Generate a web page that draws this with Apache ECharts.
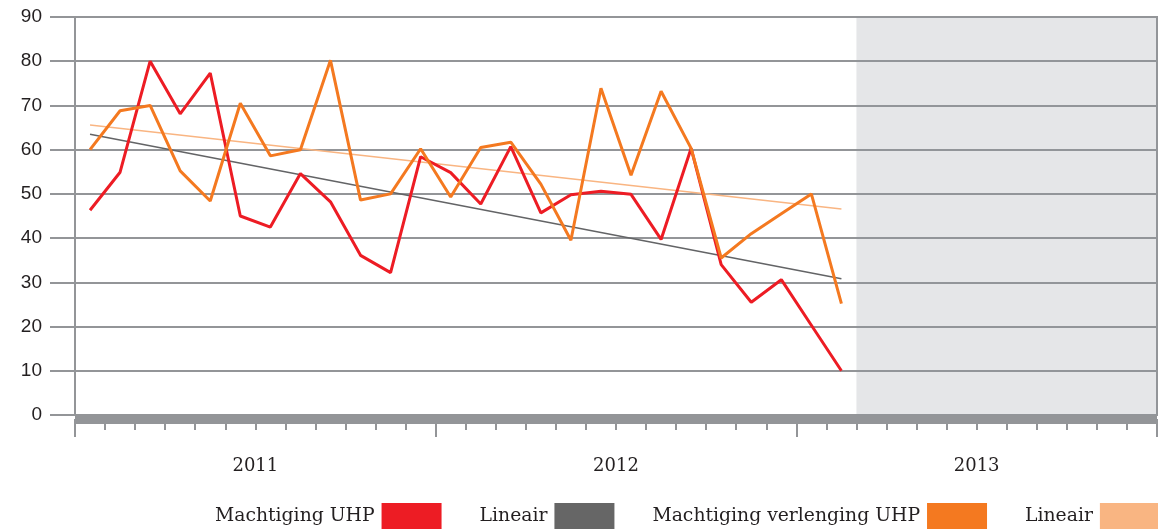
<!DOCTYPE html>
<html>
<head>
<meta charset="utf-8">
<script src="https://cdn.jsdelivr.net/npm/echarts@6/dist/echarts.min.js"></script>
<style>
  html, body { margin: 0; padding: 0; background: #fff; }
  #chart { width: 1158px; height: 529px; }
</style>
</head>
<body>
<div id="chart"></div>
<script>
// jaren op de as (elk 12 maanden)
const years = ["2011", "2012", "2013"];

// maandwaarden jan 2011 .. feb 2013
const machtigingUhp = [
  46.3, 54.9, 80, 68.1, 77.3, 45, 42.5, 54.6, 48.2, 36.1, 32.2, 58.4,
  54.8, 47.7, 60.7, 45.7, 49.8, 50.6, 49.9, 39.7, 60.3, 34.0, 25.5, 30.6,
  20.3, 10
];
const machtigingVerlenging = [
  60, 68.8, 70, 55.2, 48.4, 70.5, 58.6, 60, 80.2, 48.6, 50, 60.2,
  49.3, 60.5, 61.7, 52.2, 39.5, 73.9, 54.2, 73.2, 60.3, 35.5, 41, 45.5,
  50, 25.2
];
// lineaire trend: begin- en eindwaarde
const lineairUhp = [63.5, 30.8];
const lineairVerlenging = [65.6, 46.6];

const gridColor = "#939598";
const textColor = "#231f20";

const toPoints = arr => arr.map((v, i) => [i + 0.5, v]);
const trendPoints = (pair, n) => [[0.5, pair[0]], [n - 0.5, pair[1]]];

const chart = echarts.init(document.getElementById("chart"));

const option = {
  animation: false,
  grid: {
    left: 75,
    right: 1,
    top: 17,
    bottom: 114,
    show: true,
    borderColor: gridColor,
    borderWidth: 2,
    backgroundColor: "transparent"
  },
  legend: {
    left: 215,
    top: 503,
    width: 1100,
    padding: 0,
    itemWidth: 60,
    itemHeight: 26,
    itemGap: 38,
    align: "right",
    icon: "rect",
    data: ["Machtiging UHP", "Lineair1", "Machtiging verlenging UHP", "Lineair2"],
    formatter: name => name.replace(/\d$/, ""),
    textStyle: {
      fontFamily: "DejaVu Serif",
      fontSize: 18.8,
      color: textColor,
      padding: [0, 2, 0, 0]
    }
  },
  xAxis: [
    {
      type: "value",
      min: 0,
      max: 36,
      interval: 1,
      position: "bottom",
      offset: 4,
      axisLine: { show: true, onZero: false, lineStyle: { color: gridColor, width: 9, cap: "butt" } },
      axisTick: { show: true, length: 11, lineStyle: { color: gridColor, width: 2 } },
      axisLabel: { show: false },
      splitLine: { show: false }
    },
    {
      type: "category",
      data: years,
      position: "bottom",
      offset: 4,
      boundaryGap: true,
      axisLine: { show: false, onZero: false },
      axisTick: { show: true, length: 18, lineStyle: { color: gridColor, width: 2 } },
      axisLabel: {
        margin: 38,
        fontFamily: "DejaVu Serif",
        fontSize: 18,
        color: textColor
      },
      splitLine: { show: false }
    }
  ],
  yAxis: {
    type: "value",
    min: 0,
    max: 90,
    interval: 10,
    axisLine: { show: true, lineStyle: { color: gridColor, width: 2 } },
    axisTick: { show: true, length: 25, lineStyle: { color: gridColor, width: 2 } },
    axisLabel: {
      margin: 33,
      fontFamily: "Liberation Sans",
      fontSize: 19,
      color: textColor
    },
    splitLine: { lineStyle: { color: gridColor, width: 2 } }
  },
  series: [
    {
      // grijs vlak voor 2013 (nog geen data)
      name: "shade",
      type: "line",
      data: [],
      markArea: {
        silent: true,
        itemStyle: { color: "rgba(147,151,159,0.24)" },
        data: [[{ xAxis: 26, yAxis: 0 }, { xAxis: 36, yAxis: 90 }]]
      }
    },
    {
      name: "Lineair1",
      type: "line",
      data: trendPoints(lineairUhp, machtigingUhp.length),
      symbol: "none",
      itemStyle: { color: "#666666" },
      lineStyle: { color: "#636466", width: 1.5 }
    },
    {
      name: "Lineair2",
      type: "line",
      data: trendPoints(lineairVerlenging, machtigingVerlenging.length),
      symbol: "none",
      itemStyle: { color: "#f9b582" },
      lineStyle: { color: "#f9b582", width: 1.5 }
    },
    {
      name: "Machtiging UHP",
      type: "line",
      data: toPoints(machtigingUhp),
      symbol: "none",
      itemStyle: { color: "#ed1c24" },
      lineStyle: { color: "#ed1c24", width: 3 }
    },
    {
      name: "Machtiging verlenging UHP",
      type: "line",
      data: toPoints(machtigingVerlenging),
      symbol: "none",
      itemStyle: { color: "#f47920" },
      lineStyle: { color: "#f47920", width: 3 }
    }
  ]
};

chart.setOption(option);
</script>
</body>
</html>
